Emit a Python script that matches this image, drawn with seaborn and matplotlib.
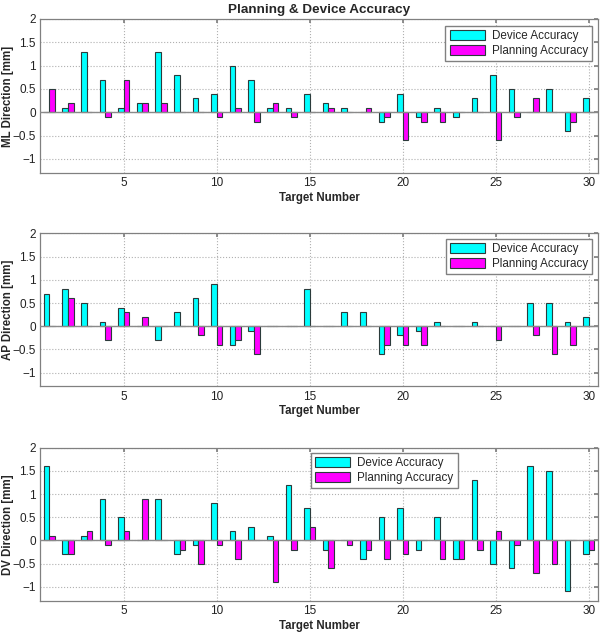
import numpy as np
import pandas as pd
import matplotlib
matplotlib.use("Agg")
import matplotlib.pyplot as plt
import seaborn as sns
from matplotlib.ticker import FuncFormatter

targets = list(range(1, 31))

ml_device = [0, 0.1, 1.3, 0.7, 0.1, 0.2, 1.3, 0.8, 0.3, 0.4,
             1.0, 0.7, 0.1, 0.1, 0.4, 0.2, 0.1, 0, -0.2, 0.4,
             -0.1, 0.1, -0.1, 0.3, 0.8, 0.5, 0, 0.5, -0.4, 0.3]
ml_planning = [0.5, 0.2, 0, -0.1, 0.7, 0.2, 0.2, 0, 0, -0.1,
               0.1, -0.2, 0.2, -0.1, 0, 0.1, 0, 0.1, -0.1, -0.6,
               -0.2, -0.2, 0, 0, -0.6, -0.1, 0.3, 0, -0.2, 0]

ap_device = [0.7, 0.8, 0.5, 0.1, 0.4, 0, -0.3, 0.3, 0.6, 0.9,
             -0.4, -0.1, 0, 0, 0.8, 0, 0.3, 0.3, -0.6, -0.2,
             -0.1, 0.1, 0, 0.1, 0, 0, 0.5, 0.5, 0.1, 0.2]
ap_planning = [0, 0.6, 0, -0.3, 0.3, 0.2, 0, 0, -0.2, -0.4,
               -0.3, -0.6, 0, 0, 0, 0, 0, 0, -0.4, -0.4,
               -0.4, 0, 0, 0, -0.3, 0, -0.2, -0.6, -0.4, 0]

dv_device = [1.6, -0.3, 0.1, 0.9, 0.5, 0, 0.9, -0.3, -0.1, 0.8,
             0.2, 0.3, 0.1, 1.2, 0.7, -0.2, 0, -0.4, 0.5, 0.7,
             -0.2, 0.5, -0.4, 1.3, -0.5, -0.6, 1.6, 1.5, -1.1, -0.3]
dv_planning = [0.1, -0.3, 0.2, -0.1, 0.2, 0.9, 0, -0.2, -0.5, -0.1,
               -0.4, 0, -0.9, -0.2, 0.3, -0.6, -0.1, -0.2, -0.4, -0.3,
               0, -0.4, -0.4, -0.2, 0.2, -0.1, -0.7, -0.5, 0, -0.2]

panels = [
    ("ML Direction [mm]", ml_device, ml_planning),
    ("AP Direction [mm]", ap_device, ap_planning),
    ("DV Direction [mm]", dv_device, dv_planning),
]

series = ["Device Accuracy", "Planning Accuracy"]
colors = ["#00FFFF", "#FF00FF"]

sns.set_theme(style="white")
plt.rcParams["font.family"] = ["Liberation Sans", "DejaVu Sans"]

fig = plt.figure(figsize=(6, 6.32), dpi=100)

# axes boxes in figure fractions (left, bottom, width, height)
boxes = [
    (0.0667, 0.7263, 0.930, 0.2437),
    (0.0667, 0.3885, 0.930, 0.2421),
    (0.0667, 0.0495, 0.930, 0.2421),
]
legend_loc = [
    dict(loc="upper right", bbox_to_anchor=(0.989, 0.955)),
    dict(loc="upper right", bbox_to_anchor=(0.99, 0.962)),
    dict(loc="upper left", bbox_to_anchor=(0.486, 0.965)),
]

fmt = FuncFormatter(lambda v, _: f"{v:g}".replace("-", "\u2212"))

for i, (ylabel, dev, plan) in enumerate(panels):
    ax = fig.add_axes(boxes[i])
    df = pd.DataFrame({
        "Target": targets * 2,
        "Value": dev + plan,
        "Series": [series[0]] * len(dev) + [series[1]] * len(plan),
    })
    sns.barplot(data=df, x="Target", y="Value", hue="Series",
                hue_order=series, palette=colors, saturation=1,
                native_scale=True, width=0.6, gap=0,
                edgecolor="#2b3b3b", linewidth=0.8,
                errorbar=None, ax=ax, zorder=3)
    # baseline drawn over the bars so zero-height bars don't show
    ax.axhline(0, color="#8a8a8a", lw=1.0, zorder=4)
    ax.set_xlim(0.5, 30.5)
    ax.set_ylim(-1.3, 2)
    ax.set_xticks([5, 10, 15, 20, 25, 30])
    ax.set_yticks([-1, -0.5, 0, 0.5, 1, 1.5, 2])
    ax.yaxis.set_major_formatter(fmt)
    ax.grid(True, linestyle=":", color="#b0b0b0", lw=0.8, zorder=0)
    ax.set_axisbelow(True)
    ax.tick_params(direction="in", top=True, right=True, length=3,
                   labelsize=8.5, colors="#808080", labelcolor="#222222",
                   pad=3)
    for s in ax.spines.values():
        s.set_color("#808080")
        s.set_linewidth(0.9)
    ax.set_xlabel("Target Number", fontsize=8.3, fontweight="bold",
                  labelpad=2)
    ax.set_ylabel(ylabel, fontsize=8.3, fontweight="bold")
    ax.yaxis.set_label_coords(-0.047, 0.5)
    handles, labels = ax.get_legend_handles_labels()
    ax.legend(handles, labels, fontsize=8.4, frameon=True, fancybox=False,
              edgecolor="#808080", framealpha=1, handlelength=3.0,
              handleheight=0.9, borderpad=0.35, labelspacing=0.25,
              handletextpad=0.6, borderaxespad=0, **legend_loc[i])
    if i == 0:
        ax.set_title("Planning & Device Accuracy", fontsize=9.7,
                     fontweight="bold", pad=4)

fig.savefig("out.png", dpi=100)
